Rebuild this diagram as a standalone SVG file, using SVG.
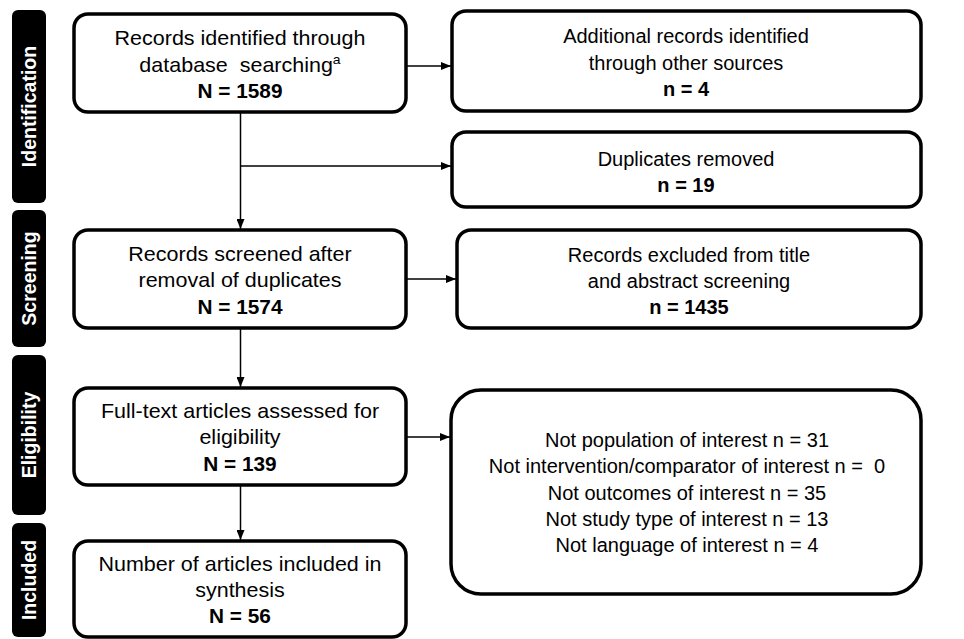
<svg xmlns="http://www.w3.org/2000/svg" width="964" height="639" viewBox="0 0 964 639">
<style>
.box{fill:#fff;stroke:#000;stroke-width:3.5}
.side{fill:#000}
.st{font-family:"Liberation Sans",Arial,sans-serif;font-weight:bold;font-size:19.5px;fill:#fff;text-anchor:middle}
.t{font-family:"Liberation Sans",Arial,sans-serif;font-size:20px;fill:#000;text-anchor:middle}
.b{font-weight:bold}
.c{stroke:#000;stroke-width:1.5;fill:none}
</style>
<defs>
<marker id="ah" markerUnits="userSpaceOnUse" markerWidth="10" markerHeight="8" refX="10" refY="4" orient="auto">
<path d="M0,0 L10,4 L0,8 z" fill="#000"/>
</marker>
</defs>
<rect width="964" height="639" fill="#fff"/>
<g id="phases">
<g id="phase-identification"><rect class="side" x="12" y="10" width="34" height="193" rx="6"/><text class="st" transform="translate(36,106.5) rotate(-90)">Identification</text></g>
<g id="phase-screening"><rect class="side" x="12" y="210" width="34" height="137" rx="6"/><text class="st" transform="translate(36,278.5) rotate(-90)">Screening</text></g>
<g id="phase-eligibility"><rect class="side" x="12" y="355" width="34" height="160" rx="6"/><text class="st" transform="translate(36,435) rotate(-90)">Eligibility</text></g>
<g id="phase-included"><rect class="side" x="12" y="523" width="34" height="114" rx="6"/><text class="st" transform="translate(36,580) rotate(-90)">Included</text></g>
</g>
<g id="connectors">
<line class="c" x1="406" y1="66" x2="451" y2="66" marker-end="url(#ah)"/>
<line class="c" x1="240.5" y1="112" x2="240.5" y2="229" marker-end="url(#ah)"/>
<line class="c" x1="240.5" y1="166" x2="451" y2="166" marker-end="url(#ah)"/>
<line class="c" x1="406" y1="279" x2="456" y2="279" marker-end="url(#ah)"/>
<line class="c" x1="240.5" y1="328" x2="240.5" y2="387" marker-end="url(#ah)"/>
<line class="c" x1="406" y1="437" x2="450" y2="437" marker-end="url(#ah)"/>
<line class="c" x1="240.5" y1="485" x2="240.5" y2="540" marker-end="url(#ah)"/>
</g>
<g id="n1"><rect class="box" x="74" y="14" width="332" height="98" rx="14"/>
<g transform="translate(240 0) scale(1.075 1)">
<text class="t" x="0" y="45">Records identified through</text>
<text class="t" x="0" y="72" xml:space="preserve">database  searching<tspan font-size="13" dy="-8">a</tspan></text>
</g>
<g transform="translate(240 0) scale(1.04 1)"><text class="t b" x="0" y="98">N = 1589</text></g></g>
<g id="n2"><rect class="box" x="452" y="11" width="469" height="100" rx="14"/>
<text class="t" x="686" y="43">Additional records identified</text>
<text class="t" x="686" y="70">through other sources</text>
<text class="t b" x="686" y="96">n = 4</text></g>
<g id="n3"><rect class="box" x="452" y="132" width="469" height="75" rx="14"/>
<text class="t" x="686" y="166">Duplicates removed</text>
<text class="t b" x="686" y="192">n = 19</text></g>
<g id="n4"><rect class="box" x="74" y="230" width="332" height="98" rx="14"/>
<g transform="translate(240 0) scale(1.075 1)">
<text class="t" x="0" y="261">Records screened after</text>
<text class="t" x="0" y="287">removal of duplicates</text>
</g>
<g transform="translate(240 0) scale(1.04 1)"><text class="t b" x="0" y="314">N = 1574</text></g></g>
<g id="n5"><rect class="box" x="457" y="230" width="464" height="98" rx="14"/>
<text class="t" x="689" y="262">Records excluded from title</text>
<text class="t" x="689" y="288">and abstract screening</text>
<text class="t b" x="689" y="314">n = 1435</text></g>
<g id="n6"><rect class="box" x="74" y="388" width="332" height="97" rx="14"/>
<g transform="translate(240 0) scale(1.075 1)">
<text class="t" x="0" y="418">Full-text articles assessed for</text>
<text class="t" x="0" y="444">eligibility</text>
</g>
<g transform="translate(240 0) scale(1.04 1)"><text class="t b" x="0" y="471">N = 139</text></g></g>
<g id="n7"><rect class="box" x="451" y="390" width="470" height="204" rx="30"/>
<text class="t" x="687" y="447">Not population of interest n = 31</text>
<text class="t" x="687" y="473" xml:space="preserve">Not intervention/comparator of interest n =  0</text>
<text class="t" x="687" y="500">Not outcomes of interest n = 35</text>
<text class="t" x="687" y="526">Not study type of interest n = 13</text>
<text class="t" x="687" y="552">Not language of interest n = 4</text></g>
<g id="n8"><rect class="box" x="74" y="541" width="332" height="96" rx="14"/>
<g transform="translate(240 0) scale(1.075 1)">
<text class="t" x="0" y="571">Number of articles included in</text>
<text class="t" x="0" y="597">synthesis</text>
</g>
<g transform="translate(240 0) scale(1.04 1)"><text class="t b" x="0" y="623">N = 56</text></g></g>
</svg>
